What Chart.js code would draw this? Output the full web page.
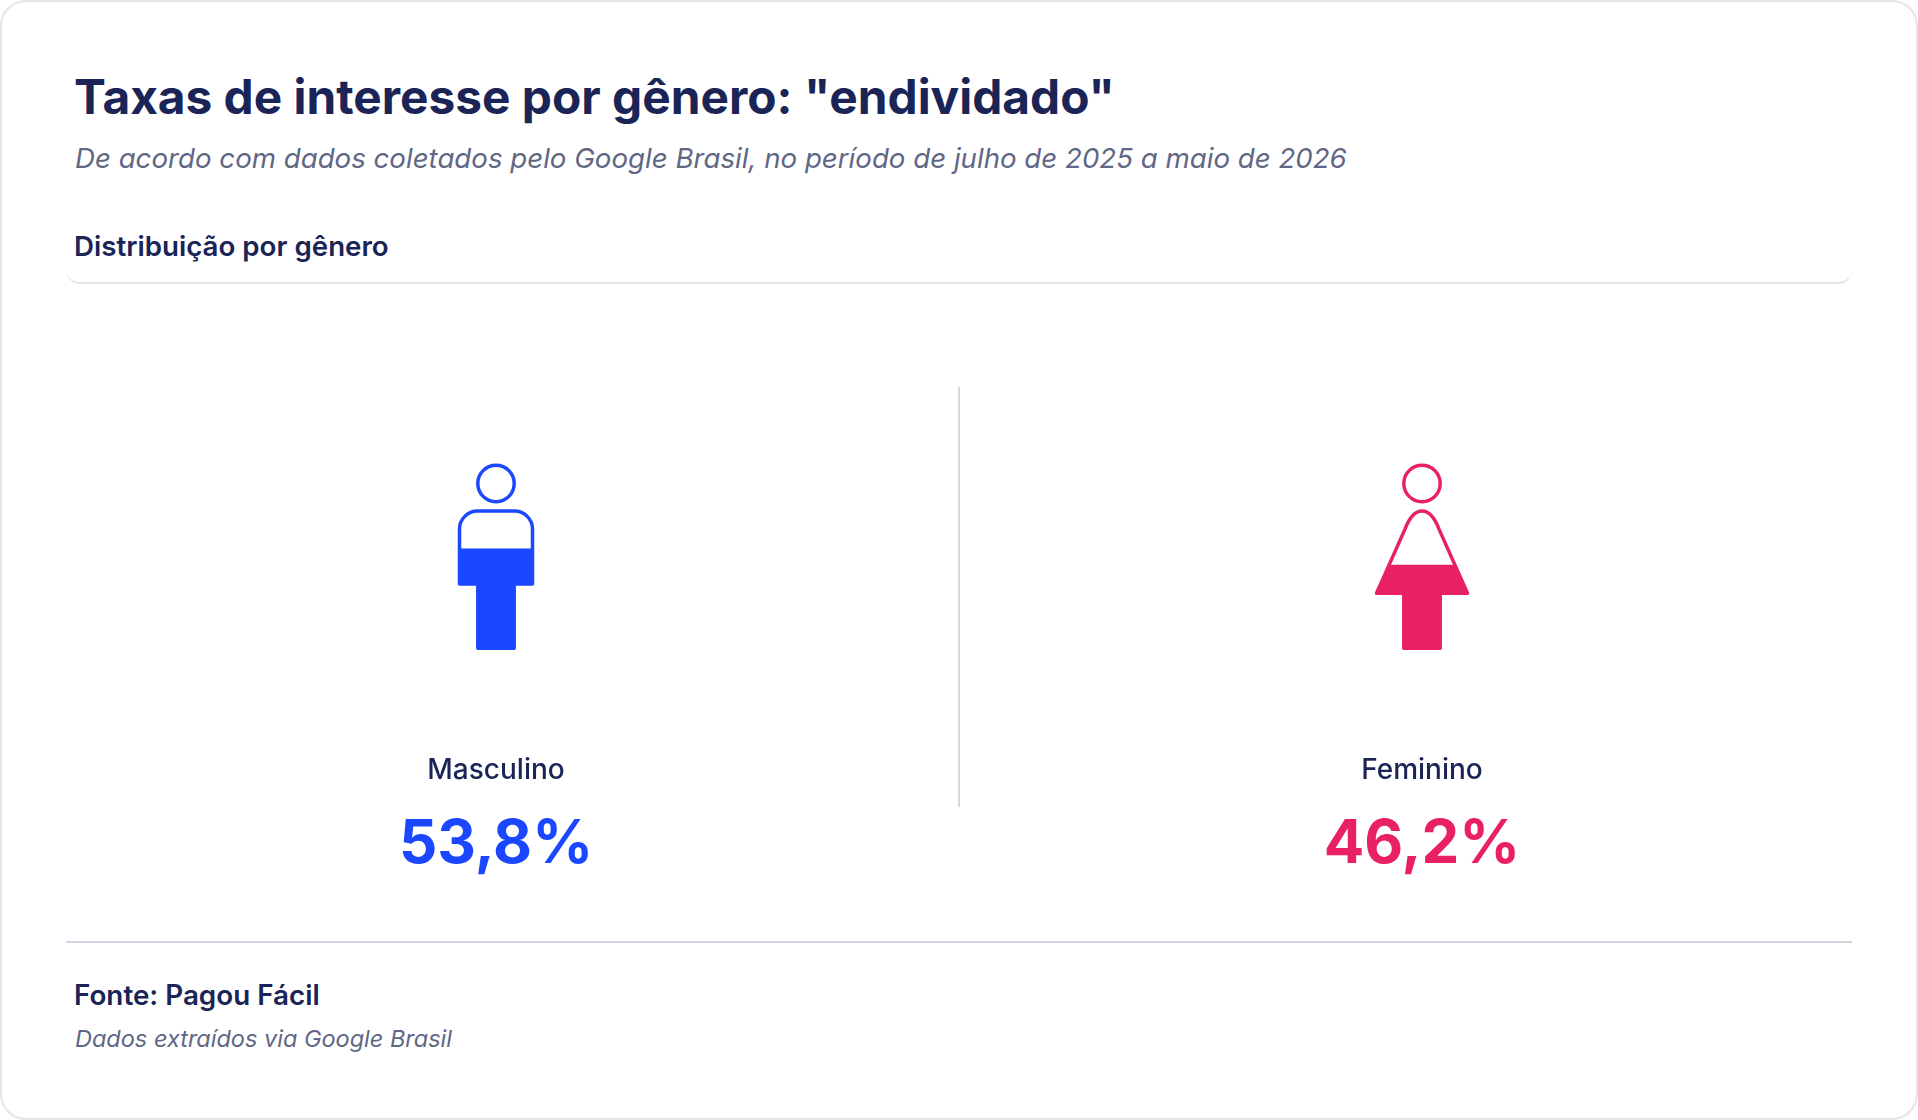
<!DOCTYPE html>
<html lang="pt-BR">
<head>
<meta charset="utf-8">
<title>Taxas de interesse por gênero</title>
<script src="https://cdn.jsdelivr.net/npm/chart.js@4"></script>
<style>
  html, body { margin: 0; padding: 0; background: #fff; }
  body { width: 1918px; height: 1120px; position: relative; overflow: hidden; font-family: Inter, sans-serif; }
  .card { position: absolute; left: 0; top: 0; width: 1918px; height: 1120px; box-sizing: border-box; border: 2px solid #e5e5e5; border-radius: 26px; }
  .txt { position: absolute; white-space: nowrap; line-height: 1; }
  #title { left: 74px; top: 74px; font-size: 47.8px; font-weight: 700; color: #1a2456; }
  #subtitle { left: 75px; top: 145px; font-size: 27.66px; font-style: italic; color: #5f6785; }
  #section { left: 74px; top: 233px; font-size: 27.7px; font-weight: 600; color: #1a2456; }
  #sectionLine { position: absolute; left: 66px; top: 251px; width: 1786px; height: 33px; box-sizing: border-box; border-bottom: 2px solid #e5e5e5; border-radius: 0 0 14px 14px; }
  #footLine { position: absolute; left: 66px; top: 941px; width: 1786px; height: 2px; background: #d3d5e0; }
  #source { left: 74px; top: 982px; font-size: 27.8px; font-weight: 600; color: #1a2456; }
  #note { left: 75px; top: 1027px; font-size: 23.5px; font-style: italic; color: #5f6785; }
  #chart { position: absolute; left: 0; top: 380px; }
</style>
</head>
<body>
<div class="card"></div>
<div class="txt" id="title">Taxas de interesse por gênero: "endividado"</div>
<div class="txt" id="subtitle">De acordo com dados coletados pelo Google Brasil, no período de julho de 2025 a maio de 2026</div>
<div class="txt" id="section">Distribuição por gênero</div>
<div id="sectionLine"></div>
<canvas id="chart" width="1918" height="520"></canvas>
<div id="footLine"></div>
<div class="txt" id="source">Fonte: Pagou Fácil</div>
<div class="txt" id="note">Dados extraídos via Google Brasil</div>

<script>
const categories = ['Masculino', 'Feminino'];
const shares = [53.8, 46.2];
const colors = ['#1a47ff', '#e92063'];

const INK = '#1a2456';

function formatShare(v) {
    return v.toFixed(1).replace('.', ',') + '%';
}

// silhouette of each person, offsets from the bar centre and the zero line
function bodyPath(ctx, gender, cx, base) {
    if (gender === 'Masculino') {
        const w = 36.5, top = base - 152.9, bottom = base - 80, r = 18;
        ctx.moveTo(cx - w, bottom);
        ctx.lineTo(cx - w, top + r);
        ctx.arcTo(cx - w, top, cx - w + r, top, r);
        ctx.lineTo(cx + w - r, top);
        ctx.arcTo(cx + w, top, cx + w, top + r, r);
        ctx.lineTo(cx + w, bottom);
        ctx.closePath();
    } else {
        const top = base - 152.9, bottom = base - 70.7;
        ctx.moveTo(cx - 45.5, bottom);
        ctx.lineTo(cx - 17, top + 18);
        ctx.quadraticCurveTo(cx - 10, top, cx, top);
        ctx.quadraticCurveTo(cx + 10, top, cx + 17, top + 18);
        ctx.lineTo(cx + 45.5, bottom);
        ctx.closePath();
    }
}

function legsPath(ctx, cx, base) {
    ctx.rect(cx - 18.2, base - 85, 36.4, 69.3);
}

const personIcons = {
    id: 'personIcons',
    beforeDatasetDraw(chart) {
        const { ctx, scales } = chart;
        const base = scales.y.getPixelForValue(0);
        ctx.save();
        ctx.beginPath();
        categories.forEach((c, i) => {
            const cx = scales.x.getPixelForValue(i);
            bodyPath(ctx, c, cx, base);
            legsPath(ctx, cx, base);
        });
        ctx.clip('nonzero');
    },
    afterDatasetDraw(chart) {
        chart.ctx.restore();
    },
    afterDatasetsDraw(chart) {
        const { ctx, scales } = chart;
        const base = scales.y.getPixelForValue(0);
        ctx.save();
        ctx.lineWidth = 3.5;
        ctx.lineJoin = 'round';
        categories.forEach((c, i) => {
            const cx = scales.x.getPixelForValue(i);
            ctx.strokeStyle = colors[i];
            ctx.beginPath();
            bodyPath(ctx, c, cx, base);
            ctx.stroke();
            ctx.beginPath();
            legsPath(ctx, cx, base);
            ctx.stroke();
            ctx.beginPath();
            ctx.arc(cx, base - 180.5, 18.2, 0, Math.PI * 2);
            ctx.stroke();

            // value under the category name
            ctx.fillStyle = colors[i];
            ctx.font = '700 60px Inter';
            ctx.textAlign = 'center';
            ctx.textBaseline = 'middle';
            ctx.fillText(formatShare(shares[i]), cx, base + 181);
        });
        // divider between the two groups
        const mid = (scales.x.getPixelForValue(0) + scales.x.getPixelForValue(1)) / 2;
        ctx.strokeStyle = '#d9d9d9';
        ctx.lineWidth = 2;
        ctx.beginPath();
        ctx.moveTo(mid, base - 277);
        ctx.lineTo(mid, base + 143);
        ctx.stroke();
        ctx.restore();
    }
};

new Chart(document.getElementById('chart').getContext('2d'), {
    type: 'bar',
    data: {
        labels: categories,
        datasets: [{
            data: shares,
            backgroundColor: colors,
            barThickness: 120,
            borderWidth: 0
        }]
    },
    options: {
        responsive: false,
        animation: false,
        layout: { padding: { left: 33, right: 33, top: 70, bottom: 0 } },
        plugins: { legend: { display: false }, tooltip: { enabled: false } },
        scales: {
            x: {
                grid: { display: false, drawTicks: false },
                border: { display: false },
                ticks: {
                    color: INK,
                    padding: 90,
                    font: { family: 'Inter', size: 28, weight: '500' }
                },
                afterFit(scale) { scale.height = 236; }
            },
            y: { display: false, min: 0, max: 100 }
        }
    },
    plugins: [personIcons]
});
</script>
</body>
</html>
